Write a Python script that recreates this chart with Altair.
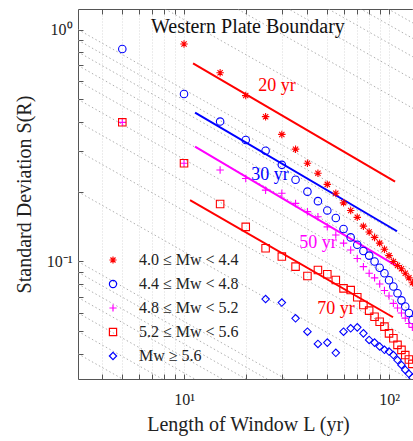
import altair as alt
import pandas as pd
import numpy as np

FONT = "Liberation Serif"
RED, BLUE, MAG = "#ff0000", "#0000ff", "#ff00ff"

# axis domains (log-log)
XMIN, XMAX = 3.04, 130.9
YMIN, YMAX = 0.03115, 1.2257

# window lengths L (yr)
L_AST = list(range(10, 135, 5))
L_ALL = list(range(5, 135, 5))
L_DIA = list(range(25, 135, 5))

S_AST = [0.866, 0.651, 0.519, 0.421, 0.353, 0.305, 0.265, 0.240, 0.215, 0.197,
         0.179, 0.166, 0.155, 0.142, 0.134, 0.127, 0.120, 0.113, 0.106, 0.100,
         0.096, 0.093, 0.089, 0.085, 0.081]
S_CIR = [0.824, 0.527, 0.401, 0.334, 0.300, 0.261, 0.225, 0.200, 0.182, 0.166,
         0.154, 0.138, 0.127, 0.118, 0.111, 0.106, 0.100, 0.094, 0.089, 0.083,
         0.078, 0.073, 0.068, 0.064, 0.060, 0.056]
S_PLU = [0.398, 0.265, 0.248, 0.228, 0.203, 0.197, 0.178, 0.164, 0.156, 0.141,
         0.130, 0.120, 0.112, 0.103, 0.095, 0.089, 0.085, 0.080, 0.075, 0.071,
         0.066, 0.063, 0.060, 0.057, 0.054, 0.052]
S_SQR = [0.398, 0.265, 0.177, 0.141, 0.114, 0.105, 0.095, 0.0866, 0.0919, 0.0881,
         0.0832, 0.0766, 0.0753, 0.0701, 0.0649, 0.0614, 0.0578, 0.0550, 0.0524, 0.0490,
         0.0467, 0.0437, 0.0416, 0.0395, 0.0378, 0.0362]
S_DIA = [0.0689, 0.0665, 0.0569, 0.0498, 0.0441, 0.0447, 0.0404, 0.0498, 0.0515, 0.0520,
         0.0490, 0.0459, 0.0447, 0.0430, 0.0416, 0.0409, 0.0395, 0.0376, 0.0358, 0.0341,
         0.0328, 0.0316]

SERIES = ["4.0 \u2264 M\u1d21 < 4.4", "4.4 \u2264 M\u1d21 < 4.8", "4.8 \u2264 M\u1d21 < 5.2",
          "5.2 \u2264 M\u1d21 < 5.6", "M\u1d21 \u2265 5.6"]
SERIES_COLORS = [RED, BLUE, MAG, RED, BLUE]
ASTERISK = "M0,-1L0,1M-1,0L1,0M-0.7,-0.7L0.7,0.7M-0.7,0.7L0.7,-0.7"
PLUS = "M-1,0L1,0M0,-1L0,1"
SERIES_SHAPES = [ASTERISK, "circle", PLUS, "square", "diamond"]

# fitted reference lines (slope -1/2)
FIT_NAMES = ["20 yr", "30 yr", "50 yr", "70 yr"]
FIT_L1 = [11.07, 11.32, 11.32, 10.70]
FIT_S1 = [0.715, 0.438, 0.3125, 0.184]
FIT_L2 = [107.0, 109.4, 108.2, 104.6]
FIT_S2 = [0.221, 0.135, 0.0959, 0.0575]
FIT_COLORS = [RED, BLUE, MAG, RED]
LAB_L = [28.4, 26.3, 45.0, 55.1]
LAB_S = [0.571, 0.236, 0.120, 0.0624]

# dotted background guide lines through the y ticks at the left edge
GUIDE_K = [0.04, 0.05, 0.06, 0.07, 0.08, 0.09, 0.1, 0.2, 0.3, 0.4, 0.5, 0.6, 0.7,
           0.8, 0.9, 1, 2, 3, 4, 5, 6, 7, 8, 9, 10]
GUIDE_XEND = 400.0

X_MINOR = [4, 5, 6, 7, 8, 9, 10, 20, 30, 40, 50, 60, 70, 80, 90, 100]
Y_MINOR = [0.04, 0.05, 0.06, 0.07, 0.08, 0.09, 0.1, 0.2, 0.3, 0.4, 0.5, 0.6, 0.7,
           0.8, 0.9, 1]

TITLE_TEXT = "Western Plate Boundary"
TITLE_L, TITLE_S = 20.5, 1.025

# ---- data frames
rows = []
for name, Ls, Ss in zip(SERIES, [L_AST, L_ALL, L_ALL, L_ALL, L_DIA],
                        [S_AST, S_CIR, S_PLU, S_SQR, S_DIA]):
    for l, s in zip(Ls, Ss):
        rows.append({"L": l, "S": s, "series": name})
pts = pd.DataFrame(rows)

guide = pd.DataFrame({"x": XMIN, "y": GUIDE_K})
guide["x2"] = GUIDE_XEND
guide["y2"] = guide["y"] * np.sqrt(XMIN / GUIDE_XEND)

fits = pd.DataFrame({"name": FIT_NAMES, "x": FIT_L1, "y": FIT_S1, "x2": FIT_L2,
                     "y2": FIT_S2, "c": FIT_COLORS, "lx": LAB_L, "ly": LAB_S})
ttl = pd.DataFrame({"x": [TITLE_L], "y": [TITLE_S], "t": [TITLE_TEXT]})

xs = alt.Scale(type="log", domain=[XMIN, XMAX], nice=False)
ys = alt.Scale(type="log", domain=[YMIN, YMAX], nice=False)

AX = "#555555"
axis_bottom = alt.Axis(orient="bottom", values=[10, 100],
                       labelExpr="datum.value > 50 ? '10\u00b2' : '10\u00b9'",
                       ticks=False, domain=True, domainColor=AX, grid=False,
                       labelFont=FONT, labelFontSize=16, labelPadding=12, labelColor="#222",
                       title="Length of Window L (yr)", titleFont=FONT, titleFontSize=20,
                       titleFontWeight="normal", titleColor="#222", titleY=51, titleX=170,
                       titleBaseline="alphabetic")
axis_bottom_ticks = alt.Axis(orient="bottom", values=X_MINOR, offset=-5, tickSize=5,
                             tickColor=AX, labels=False, domain=False, grid=True,
                             gridColor="#d9d9d9", gridDash=[1, 2], title="")
axis_top = alt.Axis(orient="top", labels=False, ticks=False, domain=True,
                    domainColor=AX, grid=False, title="")
axis_top_ticks = alt.Axis(orient="top", values=X_MINOR, offset=-5, tickSize=5,
                          tickColor=AX, labels=False, domain=False, grid=False, title="")
axis_left = alt.Axis(orient="left", values=[0.1, 1],
                     labelExpr="datum.value > 0.5 ? '10\u2070' : '10\u207b\u00b9'",
                     ticks=False, domain=True, domainColor=AX, grid=False,
                     labelFont=FONT, labelFontSize=16, labelPadding=6, labelColor="#222",
                     title="Standard Deviation S(R)", titleFont=FONT, titleFontSize=20,
                     titleFontWeight="normal", titleColor="#222", titleX=-54,
                     titleBaseline="middle")
axis_left_ticks = alt.Axis(orient="left", values=Y_MINOR, offset=-5, tickSize=5,
                           tickColor=AX, labels=False, domain=False, grid=False, title="")

guide_layer = alt.Chart(guide).mark_rule(
    clip=True, color="#9a9a9a", strokeWidth=0.8, strokeDash=[1.5, 2.5]
).encode(
    x=alt.X("x:Q", scale=xs, axis=axis_bottom),
    x2="x2:Q",
    y=alt.Y("y:Q", scale=ys, axis=axis_left),
    y2="y2:Q",
)

fit_layer = alt.Chart(fits).mark_rule(clip=True, strokeWidth=2).encode(
    x=alt.X("x:Q", scale=xs, axis=axis_bottom_ticks),
    x2="x2:Q",
    y=alt.Y("y:Q", scale=ys, axis=axis_left_ticks),
    y2="y2:Q",
    color=alt.Color("c:N", scale=None),
)

legend = alt.Legend(title=None, orient="none", legendX=27, legendY=243, padding=0,
                    labelFont=FONT, labelFontSize=16, labelColor="#222", labelOffset=18,
                    rowPadding=8, symbolSize=52, symbolStrokeWidth=1.2)
pts_layer = alt.Chart(pts).mark_point(
    filled=False, size=56, strokeWidth=1.1, clip=True, opacity=1
).encode(
    x=alt.X("L:Q", scale=xs, axis=axis_top),
    y=alt.Y("S:Q", scale=ys, axis=None),
    color=alt.Color("series:N", scale=alt.Scale(domain=SERIES, range=SERIES_COLORS),
                    legend=legend),
    shape=alt.Shape("series:N", scale=alt.Scale(domain=SERIES, range=SERIES_SHAPES),
                    legend=legend),
)

lab_layer = alt.Chart(fits).mark_text(font=FONT, fontSize=18, align="center",
                                      baseline="middle").encode(
    x=alt.X("lx:Q", scale=xs, axis=axis_top_ticks),
    y=alt.Y("ly:Q", scale=ys, axis=None),
    text="name:N",
    color=alt.Color("c:N", scale=None),
)

title_layer = alt.Chart(ttl).mark_text(font=FONT, fontSize=20, align="center",
                                       baseline="middle", color="#111").encode(
    x=alt.X("x:Q", scale=xs, axis=None),
    y=alt.Y("y:Q", scale=ys, axis=None),
    text="t:N",
)

chart = alt.layer(guide_layer, fit_layer, pts_layer, lab_layer, title_layer).resolve_axis(
    x="independent", y="independent"
).properties(
    width=335, height=370,
    autosize=alt.AutoSizeParams(type="none"),
    padding={"left": 78, "top": 9, "right": 0, "bottom": 62},
    background="white",
).configure_view(stroke=None)

chart.save("out.html", embed_options={"renderer": "svg", "actions": False})
